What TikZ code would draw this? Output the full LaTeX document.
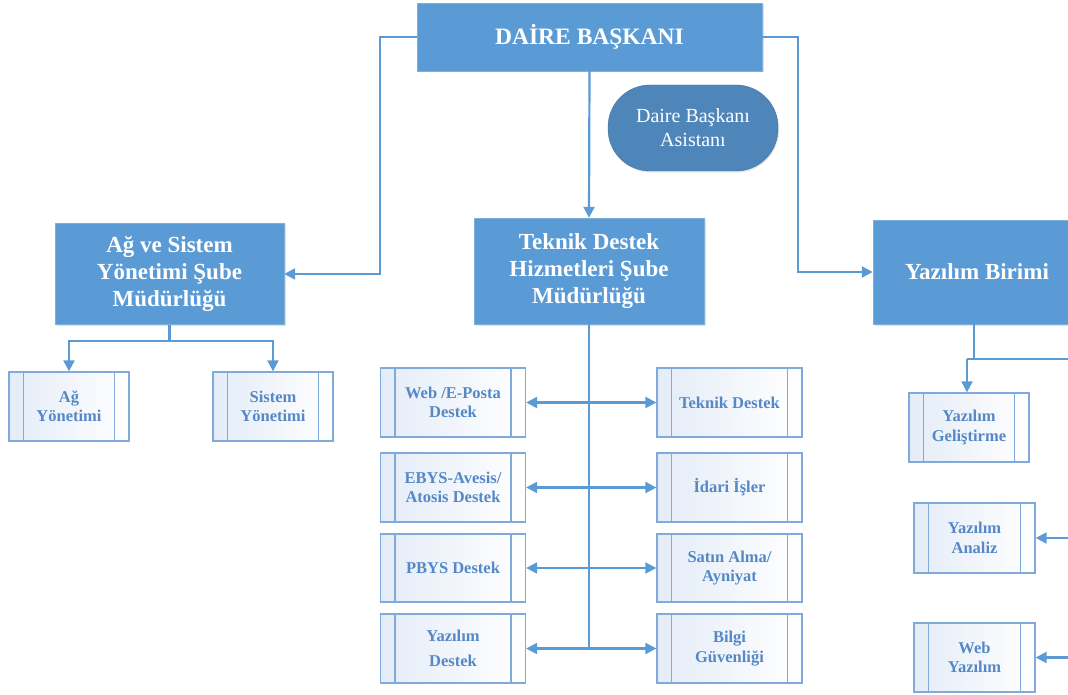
\documentclass[tikz,border=0pt]{standalone}
\usepackage{fontspec}
\setmainfont{Liberation Serif}
\usetikzlibrary{arrows.meta,shadows,calc}
\definecolor{mainblue}{HTML}{5B9BD5}
\definecolor{asblue}{HTML}{4F86BA}
\definecolor{asborder}{HTML}{41729F}
\definecolor{lineblue}{HTML}{5B9BD5}
\definecolor{subborder}{HTML}{7FAADB}
\definecolor{subtext}{HTML}{5588C6}
\definecolor{subfill}{HTML}{E4ECF7}
\tikzset{
 headbox/.style={draw=mainblue!80!white, fill=mainblue, text=white, font=\bfseries\fontsize{23}{27}\selectfont, align=center, inner sep=0pt, drop shadow={opacity=0.22,shadow xshift=1.5pt,shadow yshift=-1.5pt}},
 subbox/.style={draw=subborder, line width=1.3pt, left color=subfill, right color=white, text=subtext, font=\bfseries\fontsize{16.5}{19.5}\selectfont, align=center, inner sep=0pt, minimum height=69pt,
   path picture={\draw[subborder, line width=1.3pt] ([xshift=14.5pt]path picture bounding box.north west) -- ([xshift=14.5pt]path picture bounding box.south west) ([xshift=-14.5pt]path picture bounding box.north east) -- ([xshift=-14.5pt]path picture bounding box.south east);}},
 conn/.style={draw=lineblue, line width=2.2pt},
 arr/.style={-{Triangle[length=11pt,width=11pt]}},
 darr/.style={{Triangle[length=11pt,width=11pt]}-{Triangle[length=11pt,width=11pt]}},
}
\begin{document}
\begin{tikzpicture}[x=1pt,y=-1pt]
\useasboundingbox (0,0) rectangle (1068,695);
\clip (0,0) rectangle (1068,695);

% top
\node[headbox, minimum width=345pt, minimum height=68pt, font=\bfseries\fontsize{23.5}{28}\selectfont] (db) at (589.5,37) {DAİRE BAŞKANI};
\node[draw=asborder, fill=asblue, rounded corners=42pt, minimum width=170pt, minimum height=86pt, text=white, font=\fontsize{20}{24}\selectfont, align=center, inner sep=0pt, drop shadow={opacity=0.2,shadow xshift=1pt,shadow yshift=-1.5pt}] (as) at (693,128) {Daire Başkanı\\Asistanı};

% branches
\node[headbox, minimum width=229pt, minimum height=101pt] (ag) at (169.5,274) {Ağ ve Sistem\\Yönetimi Şube\\Müdürlüğü};
\node[headbox, minimum width=230pt, minimum height=106pt] (tk) at (589,271) {Teknik Destek\\Hizmetleri Şube\\Müdürlüğü};
\node[headbox, minimum width=208pt, minimum height=104pt] (yb) at (977,272) {Yazılım Birimi};

% Ag sub
\node[subbox, minimum width=120pt] (agy) at (69,406.5) {Ağ\\Yönetimi};
\node[subbox, minimum width=120pt] (sy) at (273,406.5) {Sistem\\Yönetimi};

% Teknik sub
\node[subbox, minimum width=145pt] (tl1) at (453,402.5) {Web /E-Posta\\Destek};
\node[subbox, minimum width=145pt] (tl2) at (453,487.5) {EBYS-Avesis/\\Atosis Destek};
\node[subbox, minimum width=145pt, minimum height=68pt] (tl3) at (453,568) {PBYS Destek};
\node[subbox, minimum width=145pt] (tl4) at (453,648.5) {Yazılım\\[5pt]Destek};
\node[subbox, minimum width=145pt] (tr1) at (729.5,402.5) {Teknik Destek};
\node[subbox, minimum width=145pt] (tr2) at (729.5,487.5) {İdari İşler};
\node[subbox, minimum width=145pt, minimum height=68pt] (tr3) at (729.5,568) {Satın Alma/\\Ayniyat};
\node[subbox, minimum width=145pt] (tr4) at (729.5,648.5) {Bilgi\\Güvenliği};

% Yazilim sub
\node[subbox, minimum width=120pt] (yg) at (969,427.5) {Yazılım\\Geliştirme};
\node[subbox, minimum width=121pt, minimum height=70pt] (ya) at (974.5,538) {Yazılım\\Analiz};
\node[subbox, minimum width=121pt] (wy) at (974.5,657.5) {Web\\Yazılım};

% connectors from top
\draw[conn,arr] (db.west) -- ++(-37,0) |- (ag.east);
\draw[conn,arr] (db.east) -- ++(36,0) |- (yb.west);
\draw[conn,arr] (db.south) -- (tk.north);

% Ag connectors
\draw[conn,arr] (ag.south) -- ++(0,16) -| (agy.north);
\draw[conn,arr] (ag.south) -- ++(0,16) -| (sy.north);

% Teknik connectors
\draw[conn] (tk.south) -- (tk.south |- tl4.east);
\draw[conn,darr] (tl1.east) -- (tr1.west);
\draw[conn,darr] (tl2.east) -- (tr2.west);
\draw[conn,darr] (tl3.east) -- (tr3.west);
\draw[conn,darr] (tl4.east) -- (tr4.west);

% Yazilim connectors
\coordinate (yj) at (967,359);
\coordinate (yr) at (1090,359);
\coordinate (ya0) at (1090,538);
\coordinate (wy0) at (1090,657.5);
\draw[conn] ([xshift=-3pt]yb.south) -- ([xshift=-3pt]yb.south |- yj);
\draw[conn] (yj) -- (yr) -- (wy0);
\draw[conn,arr] (yj) -- (yj |- yg.north);
\draw[conn,arr] (ya0) -- (ya.east);
\draw[conn,arr] (wy0) -- (wy.east);
\end{tikzpicture}
\end{document}
